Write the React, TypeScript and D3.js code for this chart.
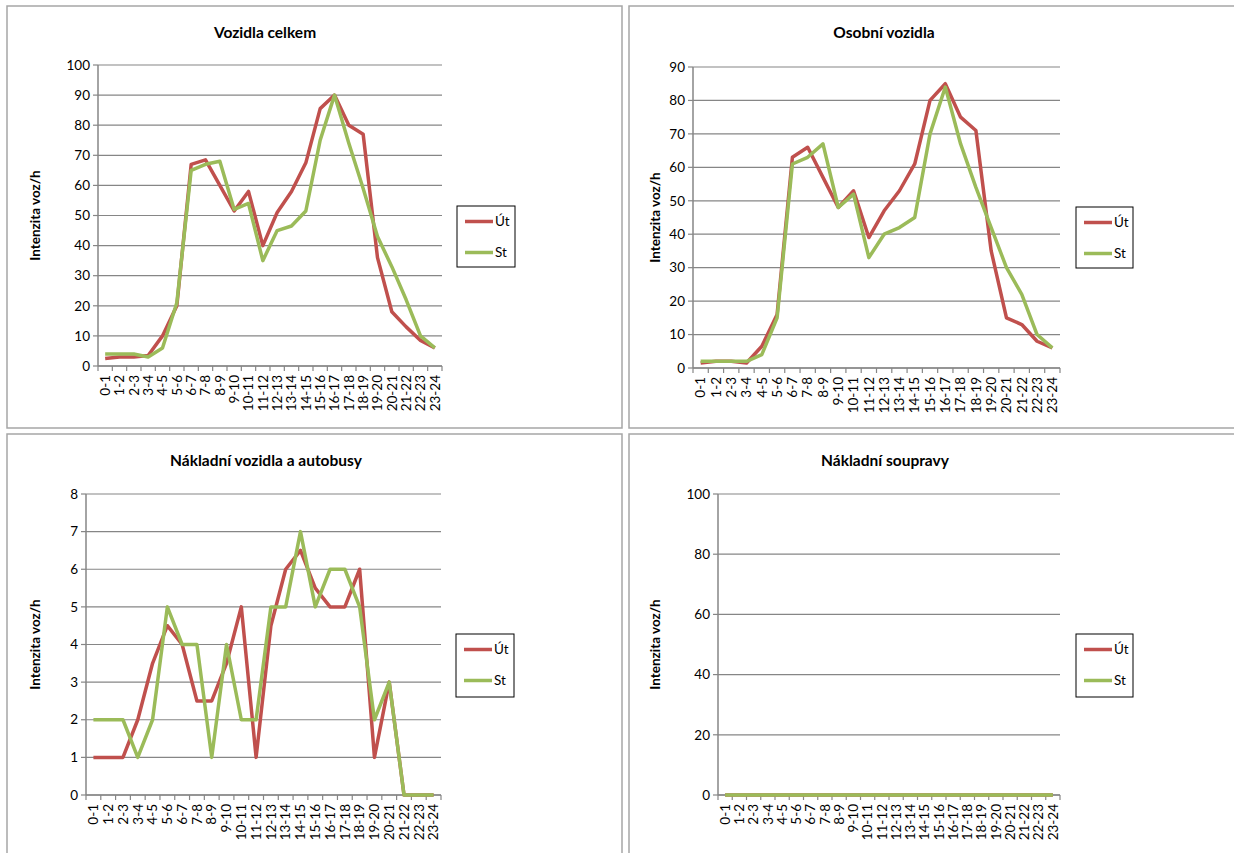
import React from "react";
import * as d3 from "d3";

const categories = ["0-1","1-2","2-3","3-4","4-5","5-6","6-7","7-8","8-9","9-10","10-11","11-12","12-13","13-14","14-15","15-16","16-17","17-18","18-19","19-20","20-21","21-22","22-23","23-24"];

const seriesNames = ["Út", "St"];

const celkemUt = [2.5,3,3,3.5,10,20,67,68.5,60,51.5,58,40,51,58,67.5,85.5,90,80,77,36,18,13,8.5,6];
const celkemSt = [4,4,4,3,6,21,65,67,68,52,54,35,45,46.5,51.5,75,90,74,59,43,33,22,10,6];

const osobniUt = [1.5,2,2,1.5,6.5,16,63,66,57,48,53,39,47,53,61,80,85,75,71,35,15,13,8,6];
const osobniSt = [2,2,2,2,4,15,61,63,67,48,52,33,40,42,45,70,84,67,54,42,30,22,10,6];

const nakladniUt = [1,1,1,2,3.5,4.5,4,2.5,2.5,3.5,5,1,4.5,6,6.5,5.5,5,5,6,1,3,0,0,0];
const nakladniSt = [2,2,2,1,2,5,4,4,1,4,2,2,5,5,7,5,6,6,5,2,3,0,0,0];

const soupravyUt = [0,0,0,0,0,0,0,0,0,0,0,0,0,0,0,0,0,0,0,0,0,0,0,0];
const soupravySt = [0,0,0,0,0,0,0,0,0,0,0,0,0,0,0,0,0,0,0,0,0,0,0,0];

const titles = ["Vozidla celkem", "Osobní vozidla", "Nákladní vozidla a autobusy", "Nákladní soupravy"];
const yMaxes = [100, 90, 8, 100];
const yTickSteps = [10, 10, 1, 20];
const yTitle = "Intenzita voz/h";

const FONT = "Lato, 'Open Sans', 'Liberation Sans', sans-serif";
const RED = "#C0504D";
const GREEN = "#9BBB59";
const GRID = "#868686";

type PanelCfg = {
  box: [number, number, number, number];
  plot: [number, number, number, number];
  legend: [number, number, number, number];
  titleX: number;
  titleY: number;
  yTitleX: number;
};

const layouts: PanelCfg[] = [
  { box: [7, 6, 622, 428], plot: [98, 65, 442, 366], legend: [457, 206, 515, 267], titleX: 265, titleY: 38, yTitleX: 40 },
  { box: [629, 6, 1250, 428], plot: [693, 67, 1060, 368], legend: [1076, 207, 1133, 268], titleX: 884, titleY: 38, yTitleX: 660 },
  { box: [7, 434, 622, 870], plot: [86, 494, 441, 795], legend: [456, 634, 514, 697], titleX: 266, titleY: 466, yTitleX: 40 },
  { box: [629, 434, 1250, 870], plot: [718, 494, 1060, 795], legend: [1076, 634, 1133, 697], titleX: 885, titleY: 466, yTitleX: 660 },
];

const data = [
  [celkemUt, celkemSt],
  [osobniUt, osobniSt],
  [nakladniUt, nakladniSt],
  [soupravyUt, soupravySt],
];

function Panel({ idx }: { idx: number }) {
  const L = layouts[idx];
  const [x0, y0, x1, y1] = L.plot;
  const x = d3.scaleBand<string>().domain(categories).range([x0, x1]);
  const y = d3.scaleLinear().domain([0, yMaxes[idx]]).range([y1, y0]);
  const ticks = d3.range(0, yMaxes[idx] + 0.0001, yTickSteps[idx]);
  const line = d3
    .line<number>()
    .x((_, i) => (x(categories[i]) as number) + x.bandwidth() / 2)
    .y((v) => y(v));
  const colors = [RED, GREEN];
  const [lx0, ly0, lx1, ly1] = L.legend;
  const boundaries = d3.range(0, categories.length + 1).map((i) => x0 + i * x.step());
  return (
    <g>
      <rect x={L.box[0]} y={L.box[1]} width={L.box[2] - L.box[0]} height={L.box[3] - L.box[1]} fill="#fff" stroke="#a6a6a6" strokeWidth={1.5} />
      <text x={L.titleX} y={L.titleY} textAnchor="middle" fontFamily={FONT} fontWeight="bold" fontSize={15.5} fill="#000">
        {titles[idx]}
      </text>
      {ticks.map((t) => (
        <g key={t}>
          <line x1={x0} x2={x1} y1={y(t)} y2={y(t)} stroke={GRID} strokeWidth={1.2} />
          <line x1={x0 - 5} x2={x0} y1={y(t)} y2={y(t)} stroke={GRID} strokeWidth={1.2} />
          <text x={x0 - 8} y={y(t)} dy="0.35em" textAnchor="end" fontFamily={FONT} fontSize={13.5} fill="#000">
            {t}
          </text>
        </g>
      ))}
      <line x1={x0} x2={x0} y1={y0} y2={y1} stroke={GRID} strokeWidth={1.5} />
      <line x1={x0} x2={x1} y1={y1} y2={y1} stroke={GRID} strokeWidth={1.5} />
      {boundaries.map((bx, i) => (
        <line key={i} x1={bx} x2={bx} y1={y1} y2={y1 + 5} stroke={GRID} strokeWidth={1.2} />
      ))}
      {categories.map((c) => {
        const cx = (x(c) as number) + x.bandwidth() / 2;
        return (
          <text key={c} transform={`translate(${cx},${y1 + 9}) rotate(-90)`} dy="0.35em" textAnchor="end" fontFamily={FONT} fontSize={13.5} fill="#000">
            {c}
          </text>
        );
      })}
      <text transform={`translate(${L.yTitleX},${(y0 + y1) / 2}) rotate(-90)`} textAnchor="middle" fontFamily={FONT} fontWeight="bold" fontSize={13.5} fill="#000">
        {yTitle}
      </text>
      {data[idx].map((s, si) => (
        <path key={si} d={line(s) as string} fill="none" stroke={colors[si]} strokeWidth={3.5} strokeLinejoin="round" />
      ))}
      <rect x={lx0} y={ly0} width={lx1 - lx0} height={ly1 - ly0} fill="#fff" stroke="#000" strokeWidth={1} />
      {seriesNames.map((n, si) => {
        const ly = ly0 + 15.5 + si * 31;
        return (
          <g key={n}>
            <line x1={lx0 + 8} x2={lx0 + 36} y1={ly} y2={ly} stroke={colors[si]} strokeWidth={3.5} />
            <text x={lx0 + 38} y={ly} dy="0.35em" fontFamily={FONT} fontSize={13.5} fill="#000">
              {n}
            </text>
          </g>
        );
      })}
    </g>
  );
}

export default function App() {
  return (
    <svg width={1234} height={853} style={{ position: "absolute", left: 0, top: 0, background: "#fff" }}>
      <rect x={0} y={0} width={1234} height={853} fill="#fff" />
      {[0, 1, 2, 3].map((i) => (
        <Panel key={i} idx={i} />
      ))}
    </svg>
  );
}
